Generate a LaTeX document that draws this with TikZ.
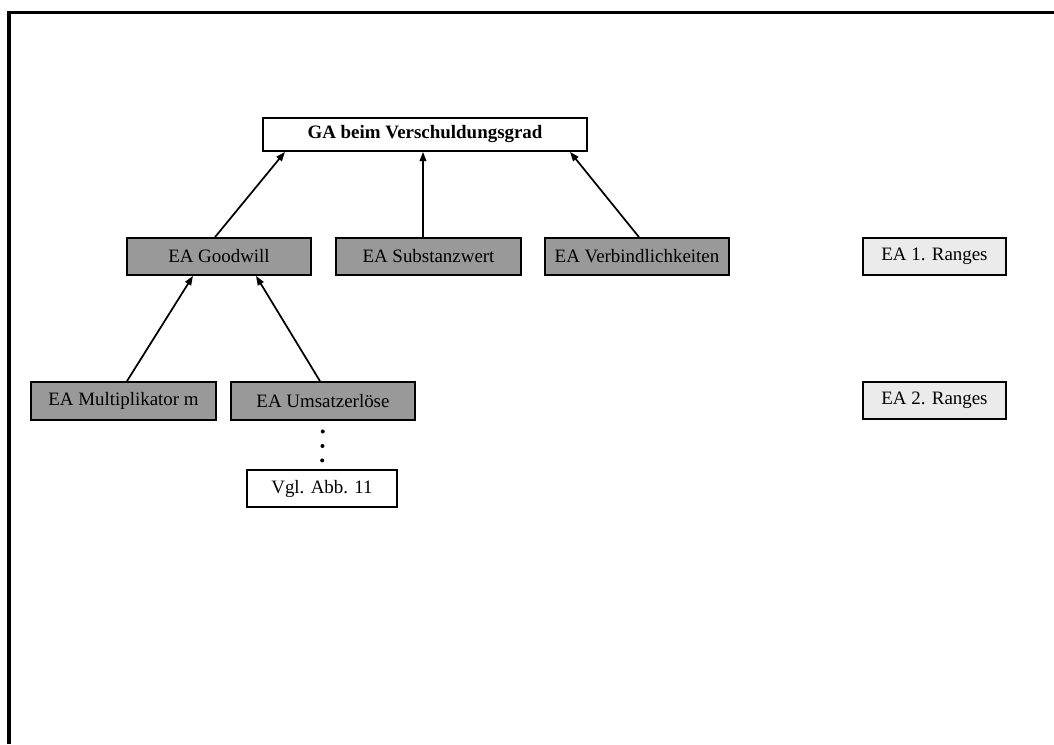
\documentclass[tikz,border=0pt]{standalone}
\usepackage{fontspec}
\setmainfont{Liberation Serif}
\usetikzlibrary{arrows.meta,calc}

\definecolor{eadark}{HTML}{999999}
\definecolor{ealight}{HTML}{EBEBEB}

\tikzset{
  box/.style={draw=black, line width=1.3pt, inner sep=0pt, align=center,
    font=\fontsize{14.2}{16}\selectfont},
  whitebox/.style={box, fill=white},
  darkbox/.style={box, fill=eadark},
  lightbox/.style={box, fill=ealight},
  arr/.style={draw=black, line width=1.3pt,
    -{Triangle[length=7pt,width=5pt]}},
}

\begin{document}
\begin{tikzpicture}[x=0.75pt, y=-0.75pt]
  \useasboundingbox (0,0) rectangle (1054,744);

  % outer frame (open to the right and bottom)
  \draw[line width=2.6pt] (9,744) -- (9,12.5) -- (1054,12.5);

  % goal
  \node[whitebox, minimum width=243pt, minimum height=24.75pt, font=\fontsize{14.2}{16}\selectfont\bfseries]
    (ga) at (425,134.5) {GA beim Verschuldungsgrad};

  % first rank
  \node[darkbox, minimum width=138pt, minimum height=27.75pt] (gw) at (219,256.5) {EA Goodwill};
  \node[darkbox, minimum width=138.75pt, minimum height=27.75pt] (sw) at (428.5,256.5) {EA Substanzwert};
  \node[darkbox, minimum width=138pt, minimum height=27.75pt] (vb) at (637,256.5) {EA Verbindlichkeiten};
  \node[lightbox, minimum width=107.25pt, minimum height=27.75pt] (r1) at (934.5,256.5) {EA 1. Ranges};

  % second rank
  \node[darkbox, minimum width=138.75pt, minimum height=28.5pt] (mm) at (123.5,401) {EA Multiplikator m};
  \node[darkbox, minimum width=138pt, minimum height=28.5pt] (us) at (323,401) {EA Umsatzerlöse};
  \node[lightbox, minimum width=107.25pt, minimum height=27.75pt] (r2) at (934.5,400.5) {EA 2. Ranges};

  % reference box
  \node[whitebox, minimum width=112.5pt, minimum height=27.75pt] (vgl) at (322,488.5) {Vgl. Abb. 11};

  % connectors
  \draw[arr] ([xshift=-3pt]gw.north) -- ([xshift=-105pt]ga.south);
  \draw[arr] ([xshift=-4.1pt]sw.north) -- ([xshift=-1.5pt]ga.south);
  \draw[arr] ([xshift=1.5pt]vb.north) -- ([xshift=108.75pt]ga.south);
  \draw[arr] ([xshift=2.6pt]mm.north) -- ([xshift=-19.5pt]gw.south);
  \draw[arr] ([xshift=-2.25pt]us.north) -- ([xshift=27.75pt]gw.south);

  % ellipsis between Umsatzerlöse and the reference box
  \foreach \f in {0.22,0.52,0.82}
    \fill ($(us.south)!\f!(vgl.north)$) circle (1.5pt);
\end{tikzpicture}
\end{document}
